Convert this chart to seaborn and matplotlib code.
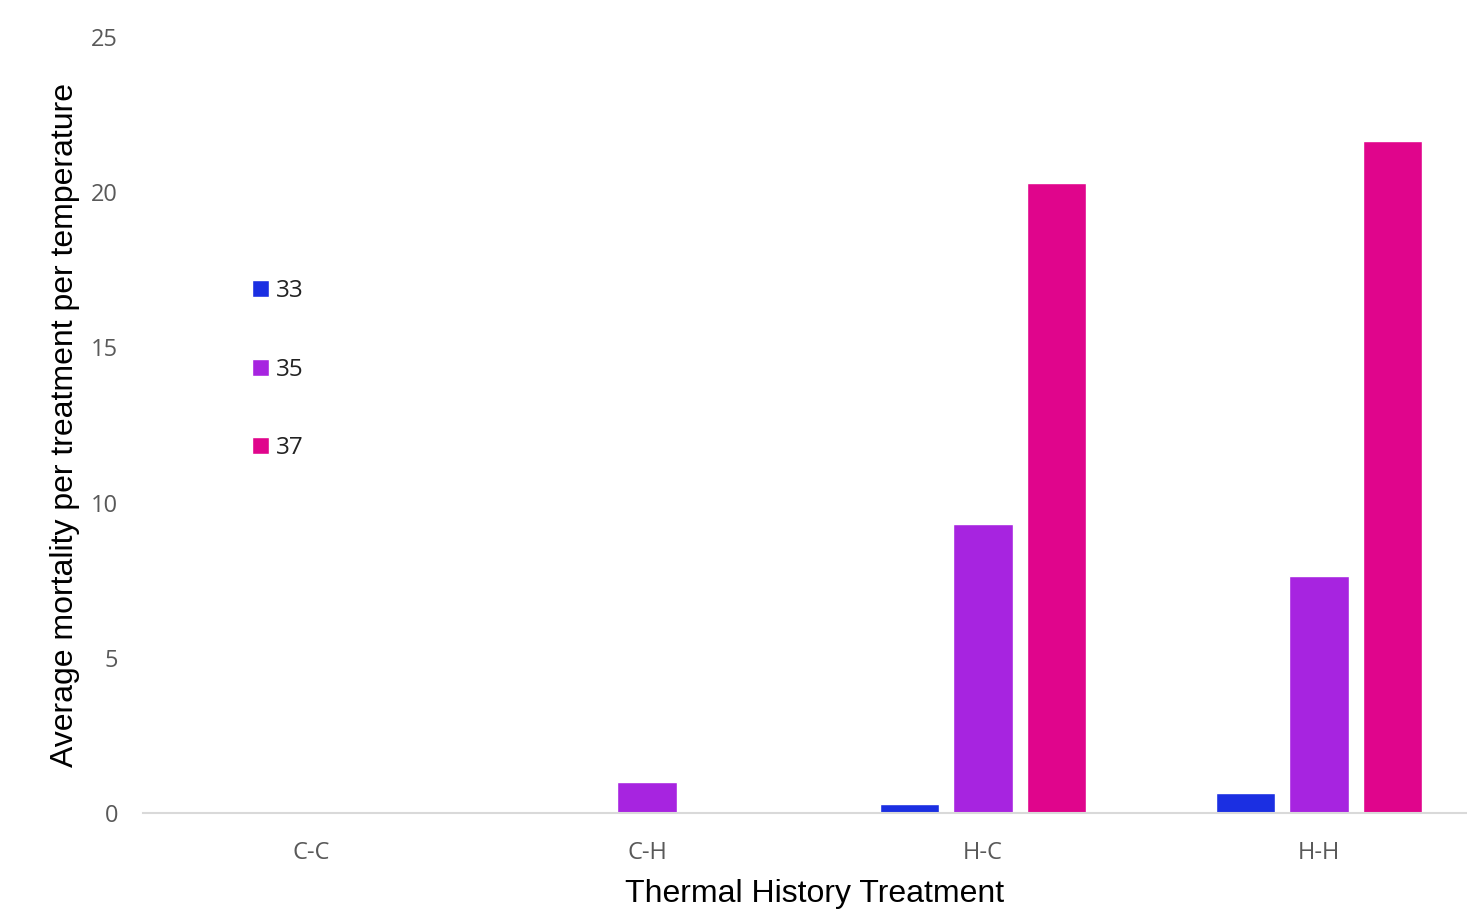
import seaborn as sns
import pandas as pd
import matplotlib.pyplot as plt

# data
treatments = ["C-C", "C-H", "H-C", "H-H"]
temps = ["33", "35", "37"]
mort_33 = [0.0, 0.0, 0.3, 0.65]
mort_35 = [0.0, 1.0, 9.3, 7.65]
mort_37 = [0.0, 0.0, 20.3, 21.65]
colors = ["#1b2fe2", "#a724e0", "#e0058c"]

rows = []
for t, vals in zip(temps, [mort_33, mort_35, mort_37]):
    for tr, v in zip(treatments, vals):
        rows.append({"treatment": tr, "temp": t, "mortality": v})
df = pd.DataFrame(rows)

sns.set_theme(style="white")
plt.rcParams["font.family"] = ["Open Sans", "DejaVu Sans"]

fig = plt.figure(figsize=(14.67, 9.09), dpi=100)
ax = fig.add_axes([143 / 1467, 1 - 813 / 909, 1344 / 1467, (813 - 37) / 909])

sns.barplot(data=df, x="treatment", y="mortality", hue="temp", order=treatments,
            hue_order=temps, palette=colors, width=0.66, gap=0.2,
            saturation=1, errorbar=None, ax=ax)

ax.set_ylim(0, 25)
ax.set_xlim(-0.5, 3.5)
ax.set_yticks([0, 5, 10, 15, 20, 25])
ax.tick_params(axis="both", length=0, labelsize=17, labelcolor="#595959")
ax.tick_params(axis="x", pad=20)
ax.tick_params(axis="y", pad=18)

ax.set_xlabel("Thermal History Treatment", fontsize=23, family="Liberation Sans",
              color="black", labelpad=10)
ax.set_ylabel("Average mortality per treatment per temperature", fontsize=23,
              family="Liberation Sans", color="black", labelpad=8)

sns.despine(ax=ax, left=True, top=True, right=True)
ax.spines["bottom"].set_color("#d9d9d9")
ax.spines["bottom"].set_linewidth(1.5)

leg = ax.legend(loc="upper left", bbox_to_anchor=(252 / 1467, 1 - 279 / 909),
                bbox_transform=fig.transFigure, frameon=False, fontsize=17.5,
                handlelength=0.7, handleheight=0.7, handletextpad=0.28,
                labelspacing=2.25, borderpad=0, borderaxespad=0)
for txt in leg.get_texts():
    txt.set_color("#222222")

fig.savefig("out.png", dpi=100)
